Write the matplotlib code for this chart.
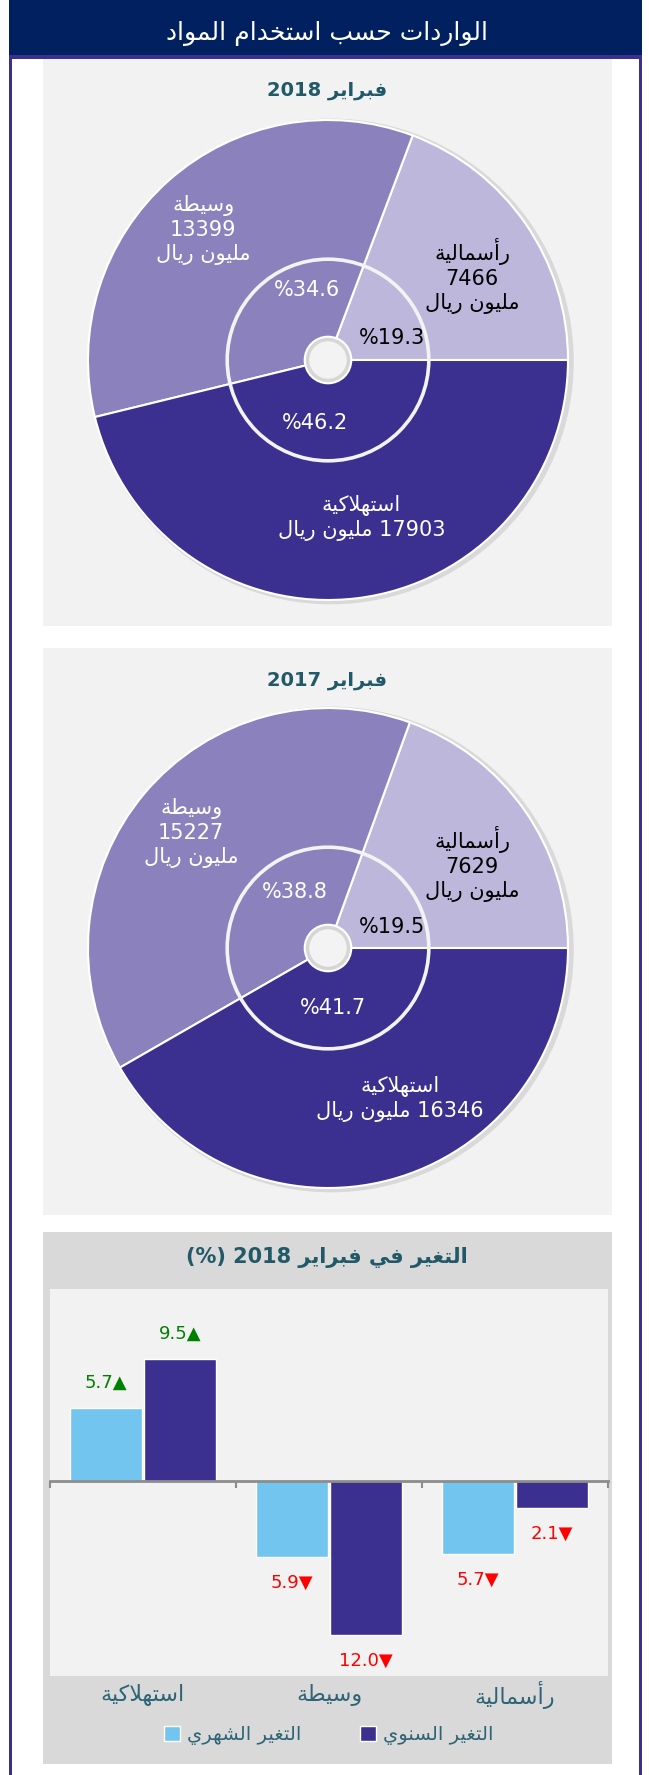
import matplotlib
matplotlib.use('Agg')
import matplotlib.pyplot as plt
from matplotlib.patches import Rectangle, Circle, Patch

# ---- data ----
pie_title_2018 = 'فبراير 2018'
pie_title_2017 = 'فبراير 2017'
segments = ['رأسمالية', 'وسيطة', 'استهلاكية']
values_2018 = [7466, 13399, 17903]
values_2017 = [7629, 15227, 16346]

bar_title = 'التغير في فبراير 2018 (%)'
categories = ['استهلاكية', 'وسيطة', 'رأسمالية']
monthly = [5.7, -5.9, -5.7]
yearly = [9.5, -12.0, -2.1]
series_names = ['التغير الشهري', 'التغير السنوي']
header = 'الواردات حسب استخدام المواد'
unit = 'مليون ريال'

# ---- simple arabic shaping (matplotlib does no bidi / joining) ----
ISO = {'ا': 0xFE8D, 'أ': 0xFE83, 'ب': 0xFE8F, 'ة': 0xFE93, 'ت': 0xFE95, 'ح': 0xFEA1,
       'خ': 0xFEA5, 'د': 0xFEA9, 'ر': 0xFEAD, 'س': 0xFEB1, 'ش': 0xFEB5, 'ط': 0xFEC1,
       'غ': 0xFECD, 'ف': 0xFED1, 'ك': 0xFED9, 'ل': 0xFEDD, 'م': 0xFEE1, 'ن': 0xFEE5,
       'ه': 0xFEE9, 'و': 0xFEED, 'ي': 0xFEF1}
RIGHT_ONLY = set('اأدروة')


def joins_next(c):
    return c in ISO and c not in RIGHT_ONLY


def shape(s):
    res = []
    i, n = 0, len(s)
    while i < n:
        c = s[i]
        if c not in ISO:
            res.append(c)
            i += 1
            continue
        jp = i > 0 and joins_next(s[i - 1])
        if c == 'ل' and i + 1 < n and s[i + 1] in 'اأ':
            base = 0xFEFB if s[i + 1] == 'ا' else 0xFEF7
            res.append(chr(base + (1 if jp else 0)))
            i += 2
            continue
        jn = joins_next(c) and i + 1 < n and s[i + 1] in ISO
        f = 3 if (jp and jn) else 1 if jp else 2 if jn else 0
        res.append(chr(ISO[c] + f))
        i += 1
    return res


def ar(s):
    lines = []
    for line in s.split('\n'):
        vis = shape(line)[::-1]
        out, run = [], []
        for c in vis:
            if c.isdigit() or c == '.':
                run.append(c)
            else:
                out += run[::-1]
                run = []
                out.append({'(': ')', ')': '('}.get(c, c))
        out += run[::-1]
        lines.append(''.join(out))
    return '\n'.join(lines)


plt.rcParams['font.family'] = ['DejaVu Sans']

W, H = 649, 1775
fig = plt.figure(figsize=(W / 100, H / 100), dpi=100)
fig.patch.set_facecolor('white')


def fx(x):
    return x / W


def fy(y):
    return 1 - y / H


def box(x0, y0, x1, y1):
    return [x0 / W, 1 - y1 / H, (x1 - x0) / W, (y1 - y0) / H]


def rect(x0, y0, x1, y1, color):
    fig.patches.append(Rectangle((x0 / W, 1 - y1 / H), (x1 - x0) / W, (y1 - y0) / H,
                                 transform=fig.transFigure, facecolor=color,
                                 edgecolor='none', zorder=-5))


TEAL = '#215968'
LABEL_TEAL = '#2E6476'
PIE_COLORS = ['#BDB7DB', '#8B82BD', '#3B2F8F']

# frame + header
rect(9, 0, 12, H, '#3B2F8F')
rect(639, 0, 642, H, '#3B2F8F')
rect(9, 0, 642, 55, '#002060')
rect(9, 55, 642, 59, '#3B2F8F')
fig.text(fx(327), fy(34), ar(header), color='white', fontsize=18,
         ha='center', va='center')

# panels
rect(43, 59, 612, 626, '#F2F2F2')
rect(43, 648, 612, 1215, '#F2F2F2')
rect(43, 1232, 612, 1764, '#D9D9D9')


def donut(cy, title, ty, vals, lab_pos, pct_pos):
    fig.text(fx(327), fy(ty), ar(title), color=TEAL, fontsize=14,
             fontweight='bold', ha='center', va='center')
    ax = fig.add_axes(box(88, cy - 240, 568, cy + 240))
    ax.add_patch(Circle((0.012, -0.006), 1.012, facecolor='#000000', alpha=0.10,
                        edgecolor='none', clip_on=False, zorder=0))
    ax.pie(vals, colors=PIE_COLORS, startangle=0, counterclock=True, radius=1,
           wedgeprops=dict(edgecolor='white', linewidth=1.5))
    ax.add_patch(Circle((0, 0), 0.42, facecolor='none', edgecolor='#F3F3F3',
                        linewidth=2.6, zorder=5))
    ax.add_patch(Circle((0, 0), 0.097, facecolor='#D6D6D6', edgecolor='white',
                        linewidth=1.5, zorder=6))
    ax.add_patch(Circle((0, 0), 0.078, facecolor='#F3F3F3', edgecolor='none',
                        zorder=6))
    total = sum(vals)
    for i, (name, v) in enumerate(zip(segments, vals)):
        col = 'black' if i == 0 else 'white'
        if i == 2:
            txt = ar(name) + '\n' + ar(f'{v} ' + unit)
        else:
            txt = ar(name) + '\n' + str(v) + '\n' + ar(unit)
        ax.text(lab_pos[i][0], lab_pos[i][1], txt, color=col, fontsize=15,
                ha='center', va='center', linespacing=1.25, zorder=7)
        ax.text(pct_pos[i][0], pct_pos[i][1], f'%{100 * v / total:.1f}', color=col,
                fontsize=15, ha='center', va='center', zorder=7)
    ax.set_xlim(-1, 1)
    ax.set_ylim(-1, 1)
    ax.set_aspect('equal')
    ax.axis('off')


donut(360, pie_title_2018, 91, values_2018,
      [(0.60, 0.35), (-0.52, 0.54), (0.14, -0.66)],
      [(0.267, 0.09), (-0.086, 0.29), (-0.055, -0.264)])
donut(948, pie_title_2017, 681, values_2017,
      [(0.60, 0.35), (-0.57, 0.48), (0.30, -0.63)],
      [(0.268, 0.089), (-0.14, 0.235), (0.022, -0.251)])

# bar chart
fig.text(fx(327), fy(1258), ar(bar_title), color=TEAL, fontsize=15,
         fontweight='bold', ha='center', va='center')
ax = fig.add_axes(box(50, 1289, 608, 1676))
ax.set_facecolor('#F2F2F2')
x = list(range(len(categories)))
w = 0.39
ax.bar([i - 0.2 for i in x], monthly, w, color='#72C5EE', edgecolor='white',
       linewidth=1, zorder=2)
ax.bar([i + 0.2 for i in x], yearly, w, color='#3B2F8F', edgecolor='white',
       linewidth=1, zorder=2)
for off, vals in [(-0.2, monthly), (0.2, yearly)]:
    for i, v in enumerate(vals):
        if v >= 0:
            ax.text(i + off, v + 2.0, f'{v:.1f}▲', color='#008000', fontsize=13,
                    ha='center', va='center')
        else:
            ax.text(i + off, v - 2.0, f'{abs(v):.1f}▼', color='#FF0000', fontsize=13,
                    ha='center', va='center')
ax.set_xlim(-0.5, 2.5)
ax.set_ylim(-15.2, 15)
for s in ['top', 'right', 'left']:
    ax.spines[s].set_visible(False)
ax.spines['bottom'].set_position(('data', 0))
ax.spines['bottom'].set_color('#8C8C8C')
ax.spines['bottom'].set_linewidth(2)
ax.spines['bottom'].set_zorder(3)
ax.set_xticks([-0.5, 0.5, 1.5, 2.5])
ax.set_xticklabels([])
ax.tick_params(axis='x', direction='out', length=5, width=1.5, color='#8C8C8C')
ax.set_yticks([])
for i, c in enumerate(categories):
    ax.text(i, -0.05, ar(c), transform=ax.get_xaxis_transform(), color=LABEL_TEAL,
            fontsize=16, ha='center', va='center')

handles = [Patch(facecolor='#72C5EE', edgecolor='white'),
           Patch(facecolor='#3B2F8F', edgecolor='white')]
leg = fig.legend(handles, [ar(n) for n in series_names], loc='center',
                 bbox_to_anchor=(fx(329), fy(1735)), ncol=2, frameon=False,
                 fontsize=14, handlelength=0.8, handleheight=0.8,
                 handletextpad=0.4, columnspacing=3.0)
for t in leg.get_texts():
    t.set_color(LABEL_TEAL)

fig.savefig('out.png', dpi=100, facecolor='white')
